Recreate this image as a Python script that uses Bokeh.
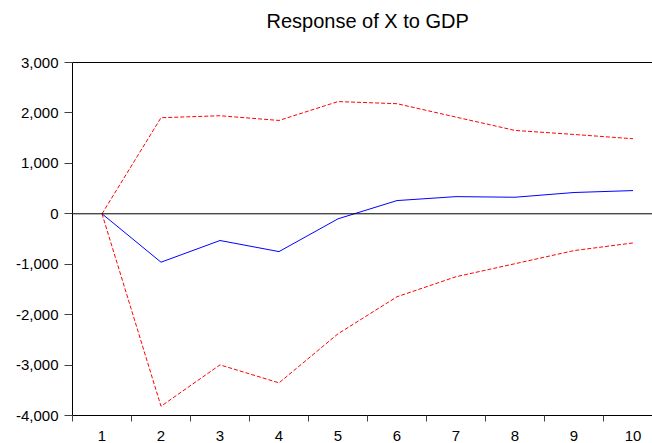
from bokeh.plotting import figure
from bokeh.models import FixedTicker, NumeralTickFormatter, Span, Range1d, LinearAxis
from bokeh.embed import file_html
from bokeh.resources import INLINE

# ---- data ----
periods = [1, 2, 3, 4, 5, 6, 7, 8, 9, 10]
response = [0, -960, -530, -750, -100, 262, 340, 328, 422, 460]
upper_band = [0, 1905, 1944, 1851, 2225, 2183, 1917, 1653, 1573, 1488]
lower_band = [0, -3817, -2996, -3353, -2380, -1645, -1248, -990, -730, -578]

y_tick_values = [-4000, -3000, -2000, -1000, 0, 1000, 2000, 3000]
x_boundary_ticks = [0.5, 1.5, 2.5, 3.5, 4.5, 5.5, 6.5, 7.5, 8.5, 9.5, 10.5]
title_text = "Response of X to GDP"

FONT = "Liberation Sans"

p = figure(
    width=652, height=443,
    x_range=Range1d(0.5, 10.33), y_range=Range1d(-4000, 3000),
    output_backend="svg", toolbar_location=None,
    min_border_left=72, min_border_right=0, min_border_top=62, min_border_bottom=28,
    title=title_text,
)

# x axis below: labels at integers, tick marks between them
xa = p.below[0]
xa.ticker = FixedTicker(ticks=periods, minor_ticks=x_boundary_ticks)
xa.axis_line_color = "black"
xa.axis_line_width = 1
xa.major_tick_line_color = None
xa.major_tick_out = 0
xa.major_tick_in = 0
xa.minor_tick_line_color = "#404040"
xa.minor_tick_out = 6
xa.minor_tick_in = 0
xa.major_label_standoff = 9
xa.major_label_text_font = FONT
xa.major_label_text_font_size = "15px"
xa.major_label_text_color = "black"

# y axis
ya = p.left[0]
ya.ticker = FixedTicker(ticks=y_tick_values)
ya.formatter = NumeralTickFormatter(format="0,0")
ya.axis_line_color = "black"
ya.axis_line_width = 1
ya.major_tick_line_color = "#404040"
ya.major_tick_out = 8
ya.major_tick_in = 0
ya.minor_tick_line_color = None
ya.major_label_standoff = 6
ya.major_label_text_font = FONT
ya.major_label_text_font_size = "15px"
ya.major_label_text_color = "black"

# top border line (axis with an invisible tick that only reserves space under the title)
top_axis = LinearAxis(ticker=FixedTicker(ticks=[5]))
top_axis.axis_line_color = "black"
top_axis.axis_line_width = 1
top_axis.major_tick_line_color = None
top_axis.minor_tick_line_color = None
top_axis.major_tick_out = 24
top_axis.major_tick_in = 0
top_axis.major_label_standoff = 0
top_axis.major_label_overrides = {5: ""}
p.add_layout(top_axis, "above")

p.title.align = "left"
p.title.offset = 194
p.title.text_font = FONT
p.title.text_font_size = "20px"
p.title.text_font_style = "normal"
p.title.text_color = "black"
p.title.standoff = 14

p.grid.visible = False
p.outline_line_color = None
p.background_fill_color = "white"
p.border_fill_color = "white"

# zero line
p.add_layout(Span(location=0, dimension="width", line_color="black", line_width=1))

p.line(periods, upper_band, line_color="#FF0000", line_width=1, line_dash="4 2")
p.line(periods, lower_band, line_color="#FF0000", line_width=1, line_dash="4 2")
p.line(periods, response, line_color="#0000FF", line_width=1)

open("out.html", "w").write(file_html(p, INLINE))
